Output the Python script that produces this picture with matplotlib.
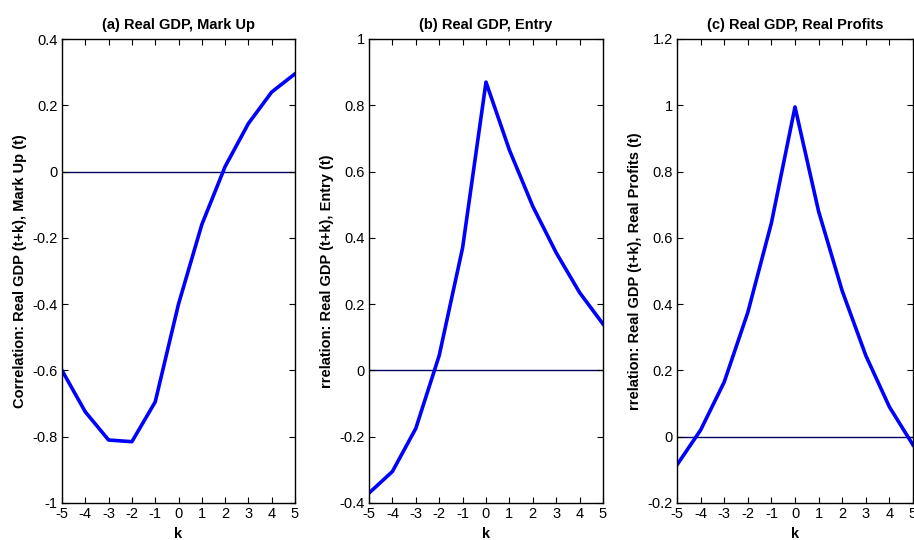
import matplotlib
matplotlib.use("Agg")
import matplotlib.pyplot as plt
import numpy as np

plt.rcParams['font.family'] = ['Liberation Sans', 'DejaVu Sans']

k = [-5, -4, -3, -2, -1, 0, 1, 2, 3, 4, 5]
markup = [-0.60, -0.725, -0.81, -0.815, -0.695, -0.40, -0.16, 0.015, 0.145, 0.24, 0.295]
entry = [-0.37, -0.305, -0.175, 0.045, 0.37, 0.87, 0.665, 0.495, 0.355, 0.235, 0.14]
profits = [-0.085, 0.02, 0.165, 0.375, 0.645, 0.995, 0.68, 0.44, 0.245, 0.09, -0.025]

titles = ["(a) Real GDP, Mark Up", "(b) Real GDP, Entry", "(c) Real GDP, Real Profits"]
ylabels = ["Correlation: Real GDP (t+k), Mark Up (t)",
           "rrelation: Real GDP (t+k), Entry (t)",
           "rrelation: Real GDP (t+k), Real Profits (t)"]
ylims = [(-1, 0.4), (-0.4, 1.0), (-0.2, 1.2)]
yticks = [np.arange(-1, 0.41, 0.2), np.arange(-0.4, 1.01, 0.2), np.arange(-0.2, 1.21, 0.2)]
series = [markup, entry, profits]

fig = plt.figure(figsize=(9.14, 5.4), dpi=100)
lefts = [62/914, 369/914, 677/914]
widths = [233/914, 234/914, 236/914]
bottom = 37/540
height = 464/540

def fmt(v):
    s = f"{v:.1f}"
    if s in ("-0.0", "0.0"):
        return "0"
    if s.endswith(".0"):
        return s[:-2]
    return s

for i in range(3):
    ax = fig.add_axes([lefts[i], bottom, widths[i], height])
    ax.axhline(0, color='#000060', lw=1.0, zorder=1)
    ax.plot(k, series[i], color='#0000ff', lw=2.6, zorder=2)
    ax.set_xlim(-5, 5)
    ax.set_ylim(*ylims[i])
    ax.set_xticks(k)
    ax.set_xticklabels([str(v) for v in k])
    ax.set_yticks(yticks[i])
    ax.set_yticklabels([fmt(v) for v in yticks[i]])
    ax.tick_params(direction='in', top=True, right=True, labelsize=10.5, length=4, width=0.8, pad=3)
    ax.set_title(titles[i], fontsize=10.5, fontweight='bold', pad=7)
    ax.set_xlabel('k', fontsize=10.5, fontweight='bold', labelpad=4)
    ax.set_ylabel(ylabels[i], fontsize=10.5, fontweight='bold', labelpad=4)
    for sp in ax.spines.values():
        sp.set_linewidth(1.0)

fig.savefig("out.png", dpi=100)
